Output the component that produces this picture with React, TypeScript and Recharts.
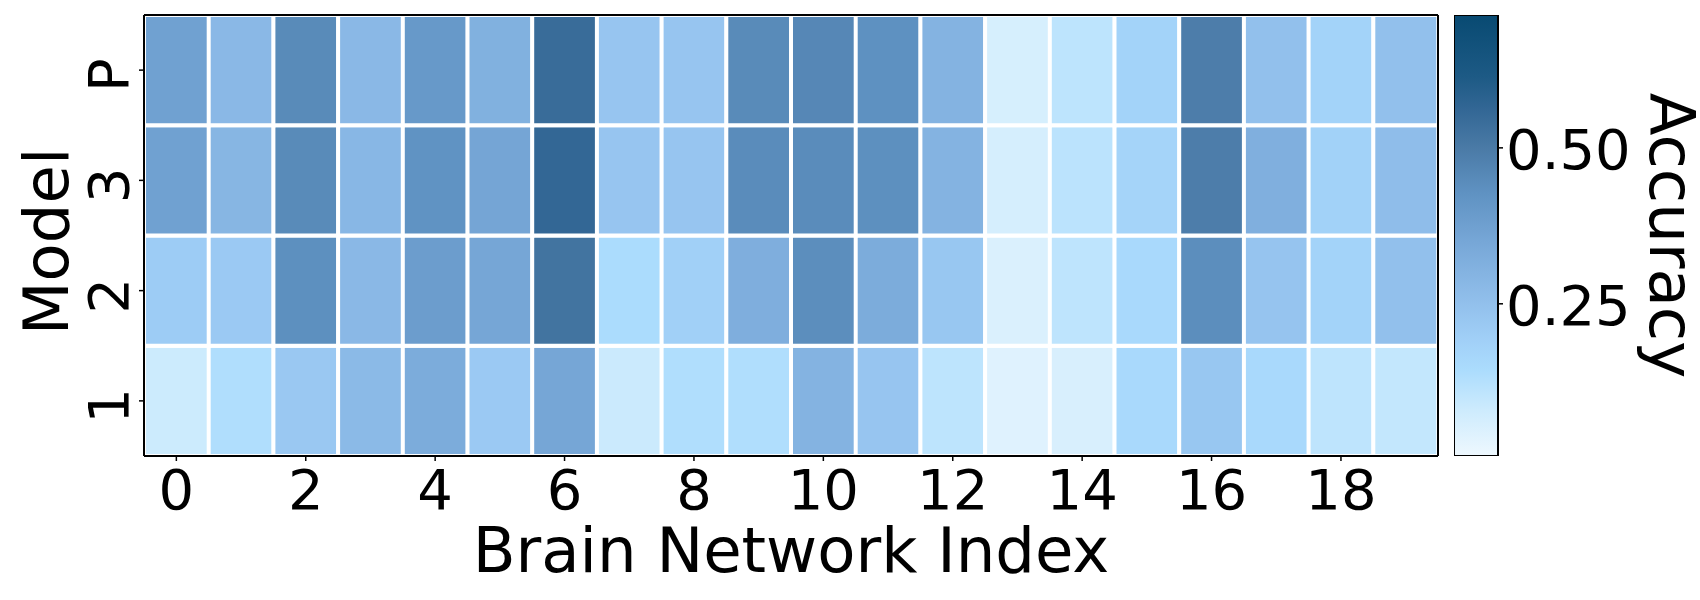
import React from 'react';
import { BarChart, Bar, XAxis, YAxis, Cell, Label } from 'recharts';

const FONT = "'DejaVu Sans', sans-serif";

// Categories
const networks = [0, 1, 2, 3, 4, 5, 6, 7, 8, 9, 10, 11, 12, 13, 14, 15, 16, 17, 18, 19];
const models = ['1', '2', '3', 'P'];
const modelTicks = [0.5, 1.5, 2.5, 3.5];

// Accuracy per model
const acc1 = [0.082, 0.135, 0.22, 0.275, 0.33, 0.215, 0.35, 0.083, 0.135, 0.135, 0.30, 0.23, 0.11, 0.04, 0.055, 0.155, 0.225, 0.155, 0.108, 0.098];
const acc2 = [0.205, 0.215, 0.435, 0.28, 0.385, 0.35, 0.52, 0.145, 0.19, 0.32, 0.44, 0.33, 0.225, 0.05, 0.108, 0.155, 0.44, 0.235, 0.18, 0.25];
const acc3 = [0.37, 0.29, 0.45, 0.285, 0.425, 0.355, 0.56, 0.23, 0.23, 0.445, 0.445, 0.435, 0.30, 0.062, 0.113, 0.175, 0.49, 0.315, 0.185, 0.26];
const accP = [0.37, 0.28, 0.45, 0.28, 0.40, 0.31, 0.545, 0.23, 0.23, 0.45, 0.46, 0.43, 0.30, 0.06, 0.11, 0.18, 0.49, 0.25, 0.18, 0.25];

// Colour bar
const cbTicks = [0.25, 0.5];
const VMIN = 0.006;
const VMAX = 0.713;
const cmapValues = [0.006, 0.08, 0.144, 0.187, 0.25, 0.348, 0.428, 0.5, 0.561, 0.614, 0.713];
const cmapColors = ['#eef8fe', '#cdebfd', '#abdcfd', '#a2d1f8', '#92c0ec', '#77a7d7', '#5f92c2', '#4a7aa6', '#336795', '#1d5a85', '#084a72'];

function hexToRgb(h: string) {
  const n = parseInt(h.slice(1), 16);
  return [(n >> 16) & 255, (n >> 8) & 255, n & 255];
}
function colorOf(v: number) {
  const x = Math.max(cmapValues[0], Math.min(cmapValues[cmapValues.length - 1], v));
  let i = 0;
  while (i < cmapValues.length - 2 && x > cmapValues[i + 1]) i++;
  const t = (x - cmapValues[i]) / (cmapValues[i + 1] - cmapValues[i]);
  const a = hexToRgb(cmapColors[i]);
  const b = hexToRgb(cmapColors[i + 1]);
  const c = a.map((av, k) => Math.round(av + (b[k] - av) * t));
  return `rgb(${c[0]},${c[1]},${c[2]})`;
}

const series = [
  { key: 'm1', acc: acc1 },
  { key: 'm2', acc: acc2 },
  { key: 'm3', acc: acc3 },
  { key: 'mP', acc: accP },
];

// each model occupies one row unit in the stacked layout
const rows = networks.map((n) => ({ idx: n, m1: 1, m2: 1, m3: 1, mP: 1 }));
const cbData = [{ name: 'Accuracy', top: VMAX }];

const XTick = (props: any) => {
  const { x, y, payload } = props;
  return (
    <text x={x} y={y + 46} textAnchor="middle" fontSize={56} fontFamily={FONT} fill="#000">
      {String(payload.value)}
    </text>
  );
};

const YTick = (props: any) => {
  const { x, y, payload } = props;
  const bx = x - 9;
  const cy = y + 5;
  return (
    <text x={bx} y={cy} transform={`rotate(-90, ${bx}, ${cy})`} textAnchor="middle" fontSize={56} fontFamily={FONT} fill="#000">
      {models[Math.floor(payload.value)]}
    </text>
  );
};

const CbTick = (props: any) => {
  const { x, y, payload } = props;
  return (
    <text x={x + 1} y={y + 21} textAnchor="start" fontSize={56} fontFamily={FONT} fill="#000">
      {Number(payload.value).toFixed(2)}
    </text>
  );
};

const XLabel = (props: any) => {
  const vb = props.viewBox || { x: 144, y: 456, width: 1294, height: 60 };
  return (
    <text x={vb.x + vb.width / 2} y={vb.y + 116} textAnchor="middle" fontSize={62.5} fontFamily={FONT} fill="#000">
      Brain Network Index
    </text>
  );
};

const YLabel = (props: any) => {
  const vb = props.viewBox || { x: 84, y: 15, width: 60, height: 441 };
  const bx = 68;
  const cy = vb.y + vb.height / 2 + 6;
  return (
    <text x={bx} y={cy} transform={`rotate(-90, ${bx}, ${cy})`} textAnchor="middle" fontSize={62.5} fontFamily={FONT} fill="#000">
      Model
    </text>
  );
};

const CbLabel = (props: any) => {
  const vb = props.viewBox || { x: 44, y: 15, width: 150, height: 441 };
  const bx = 196;
  const cy = vb.y + vb.height / 2;
  return (
    <text x={bx} y={cy} transform={`rotate(90, ${bx}, ${cy})`} textAnchor="middle" fontSize={62.5} fontFamily={FONT} fill="#000">
      Accuracy
    </text>
  );
};

const lineStyle = { stroke: '#000', strokeWidth: 2 };
const tickStyle = { stroke: '#000', strokeWidth: 1.5 };

export default function App() {
  return (
    <div style={{ position: 'absolute', left: 0, top: 0, width: 1700, height: 600, background: '#fff' }}>
      <div style={{ position: 'absolute', left: 0, top: 0 }}>
        <BarChart width={1700} height={600} data={rows} margin={{ top: 14, right: 261, bottom: 84, left: 84 }} barCategoryGap={0} barGap={0}>
          {series.map((s) => (
            <Bar key={s.key} dataKey={s.key} stackId="m" isAnimationActive={false} stroke="#fff" strokeWidth={4}>
              {s.acc.map((v, i) => (
                <Cell key={i} fill={colorOf(v)} />
              ))}
            </Bar>
          ))}
          <XAxis
            dataKey="idx"
            type="category"
            interval={1}
            height={60}
            tickSize={5}
            tickLine={tickStyle}
            axisLine={lineStyle}
            tick={<XTick />}
            label={<Label content={XLabel} />}
          />
          <XAxis xAxisId="top" orientation="top" dataKey="idx" height={1} tick={false} tickLine={false} axisLine={lineStyle} />
          <YAxis
            type="number"
            domain={[0, 4]}
            ticks={modelTicks}
            width={60}
            tickSize={5}
            tickLine={tickStyle}
            axisLine={lineStyle}
            tick={<YTick />}
            label={<Label content={YLabel} />}
          />
          <YAxis yAxisId="right" orientation="right" type="number" domain={[0, 4]} width={1} tick={false} tickLine={false} axisLine={lineStyle} />
        </BarChart>
      </div>
      <div style={{ position: 'absolute', left: 1454, top: 0 }}>
        <BarChart width={246} height={600} data={cbData} margin={{ top: 15, right: 52, bottom: 144, left: 0 }} barCategoryGap={0}>
          <defs>
            <linearGradient id="cbGrad" x1="0" y1="1" x2="0" y2="0">
              {cmapValues.map((v, i) => (
                <stop key={i} offset={(v - VMIN) / (VMAX - VMIN)} stopColor={cmapColors[i]} />
              ))}
            </linearGradient>
          </defs>
          <XAxis dataKey="name" hide />
          <YAxis
            orientation="right"
            type="number"
            domain={[VMIN, VMAX]}
            allowDataOverflow
            ticks={cbTicks}
            width={150}
            tickSize={5}
            axisLine={false}
            tickLine={tickStyle}
            tick={<CbTick />}
            label={<Label content={CbLabel} />}
          />
          <Bar dataKey="top" fill="url(#cbGrad)" stroke="#000" strokeWidth={2} isAnimationActive={false} />
        </BarChart>
      </div>
    </div>
  );
}
